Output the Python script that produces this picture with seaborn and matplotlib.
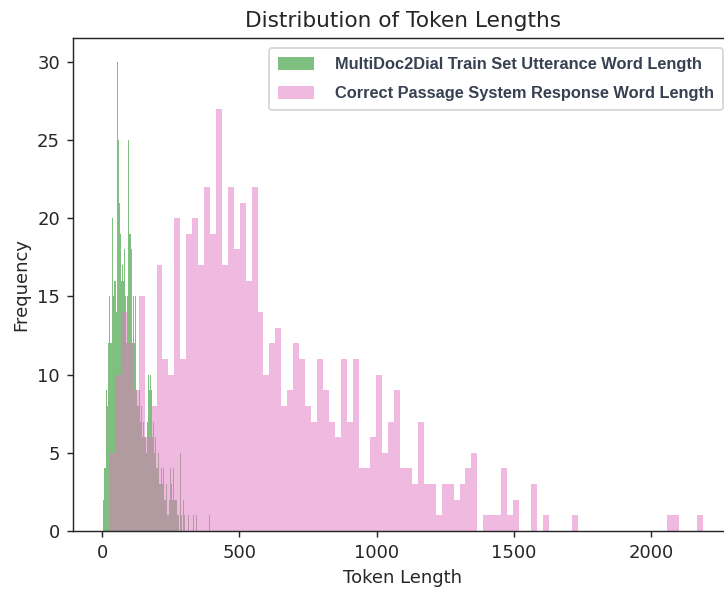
import numpy as np
import pandas as pd
import matplotlib
matplotlib.use("Agg")
import matplotlib.pyplot as plt
import seaborn as sns

# Utterance word lengths: 100 bins between these limits
utt_min, utt_max = 2, 392
utt_counts = [2, 4, 4, 9, 8, 12, 15, 12, 12, 20,
              15, 16, 14, 30, 25, 21, 19, 16, 17, 16,
              18, 15, 12, 15, 25, 19, 18, 12, 15, 12,
              15, 9, 8, 8, 9, 7, 8, 6, 7, 6,
              5, 7, 10, 9, 10, 9, 6, 7, 5, 6,
              4, 4, 5, 3, 4, 3, 4, 2, 2, 3,
              1, 1, 2, 4, 3, 2, 4, 2, 2, 1,
              1, 0, 5, 1, 0, 2, 1, 0, 0, 0,
              1, 0, 0, 0, 1, 0, 0, 1, 0, 0,
              0, 0, 0, 0, 0, 0, 0, 0, 0, 1]

# Passage word lengths: 100 bins between these limits
psg_min, psg_max = 25, 2190
psg_counts = [5, 10, 14, 12, 9, 15, 6, 8, 17, 11,
              10, 20, 11, 19, 20, 17, 22, 19, 27, 17,
              22, 18, 21, 16, 22, 14, 10, 12, 13, 8,
              9, 12, 11, 8, 7, 11, 9, 7, 6, 11,
              7, 11, 4, 4, 6, 10, 5, 7, 9, 4,
              4, 3, 7, 3, 3, 1, 3, 3, 2, 3,
              4, 5, 0, 1, 1, 1, 4, 1, 2, 0,
              0, 3, 0, 1, 0, 0, 0, 0, 1, 0,
              0, 0, 0, 0, 0, 0, 0, 0, 0, 0,
              0, 0, 0, 0, 1, 1, 0, 0, 0, 1]

labels = ["MultiDoc2Dial Train Set Utterance Word Length",
          "Correct Passage System Response Word Length"]

sns.set_style("ticks")
plt.rcParams["font.family"] = ["DejaVu Sans"]

fig = plt.figure(figsize=(724 / 130, 590 / 130), dpi=130)
ax = fig.add_axes([72.7 / 724, 59 / 590, 660.4 / 724, 492.7 / 590])

series = [(utt_min, utt_max, utt_counts, "green", labels[0]),
          (psg_min, psg_max, psg_counts, "tab:pink", labels[1])]
for lo, hi, counts, color, label in series:
    edges = np.linspace(lo, hi, len(counts) + 1)
    df = pd.DataFrame({"length": (edges[:-1] + edges[1:]) / 2, "count": counts})
    sns.histplot(data=df, x="length", weights="count", bins=len(counts),
                 binrange=(lo, hi), color=color, alpha=0.5, linewidth=0,
                 ax=ax, label=label)

ax.set_ylim(0, 31.5)
ax.set_xlim(-107.4, 2299.4)
ax.set_yticks([0, 5, 10, 15, 20, 25, 30])
ax.set_xticks([0, 500, 1000, 1500, 2000])
ax.set_title("Distribution of Token Lengths", fontsize=12)
ax.set_xlabel("Token Length")
ax.set_ylabel("Frequency")

leg = ax.legend(loc="upper right",
                prop={"family": "Liberation Sans", "weight": "bold", "size": 9.1},
                handlelength=2.2, handleheight=0.77, handletextpad=1.3,
                labelspacing=0.85, borderpad=0.55, borderaxespad=0.6)
for t in leg.get_texts():
    t.set_color("#374151")

plt.savefig("out.png", dpi=130)
plt.close()
